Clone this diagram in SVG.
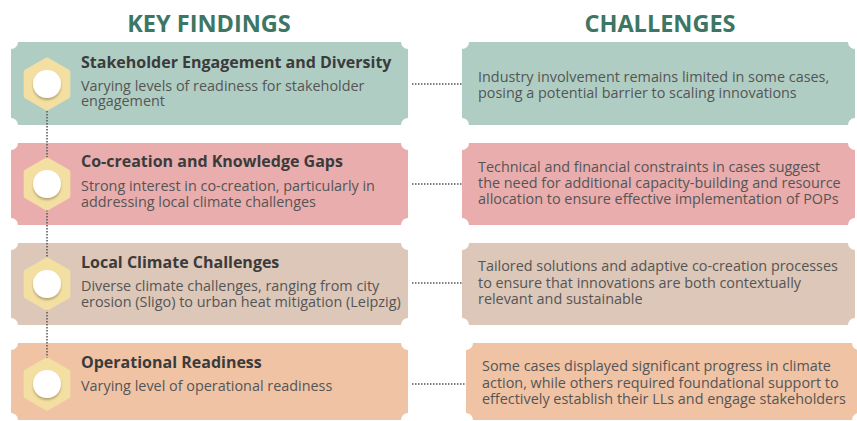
<svg xmlns="http://www.w3.org/2000/svg" width="857" height="421" viewBox="0 0 857 421">
<defs>
<style>
.title{font-family:"Open Sans","Liberation Sans",sans-serif;font-weight:bold;font-size:23.5px;fill:#3c7664;text-anchor:middle}
.head{font-family:"Open Sans","Liberation Sans",sans-serif;font-weight:bold;font-size:16px;fill:#3b3b3b}
.body{font-family:"Open Sans","Liberation Sans",sans-serif;font-size:14.4px;fill:#555}
.hex{fill:#f4dfa2;stroke:#f4dfa2;stroke-width:5;stroke-linejoin:round}
.dot{stroke:#555;stroke-width:1.5;stroke-dasharray:1.5 1.5;fill:none}
.c1{fill:#b0cdc3}.c2{fill:#e9adad}.c3{fill:#dcc7b8}.c4{fill:#f0c3a5}
</style>
<filter id="sh" x="-50%" y="-50%" width="200%" height="200%">
<feDropShadow dx="0" dy="2" stdDeviation="1.2" flood-color="#6b5a2a" flood-opacity="0.45"/>
</filter>
<path id="hx" d="M0,-24 L20.8,-12 L20.8,12 L0,24 L-20.8,12 L-20.8,-12 Z"/>
</defs>
<rect width="857" height="421" fill="#fff"/>
<text class="title" x="209" y="32">KEY FINDINGS</text>
<text class="title" x="660" y="32">CHALLENGES</text>

<g id="finding1">
<path class="c1" d="M18,42 H401 A7,7 0 0 0 408,49 V118 A7,7 0 0 0 401,125 H18 A7,7 0 0 0 11,118 V49 A7,7 0 0 0 18,42 Z"/>
<text class="head" x="81" y="68">Stakeholder Engagement and Diversity</text>
<text class="body" x="81" y="91">Varying levels of readiness for stakeholder</text>
<text class="body" x="81" y="106">engagement</text>
</g>
<g id="finding2">
<path class="c2" d="M18,143 H401 A7,7 0 0 0 408,150 V218 A7,7 0 0 0 401,225 H18 A7,7 0 0 0 11,218 V150 A7,7 0 0 0 18,143 Z"/>
<text class="head" x="81" y="167">Co-creation and Knowledge Gaps</text>
<text class="body" x="81" y="191">Strong interest in co-creation, particularly in</text>
<text class="body" x="81" y="207">addressing local climate challenges</text>
</g>
<g id="finding3">
<path class="c3" d="M18,243 H401 A7,7 0 0 0 408,250 V318 A7,7 0 0 0 401,325 H18 A7,7 0 0 0 11,318 V250 A7,7 0 0 0 18,243 Z"/>
<text class="head" x="81" y="268">Local Climate Challenges</text>
<text class="body" x="81" y="291">Diverse climate challenges, ranging from city</text>
<text class="body" x="81" y="307">erosion (Sligo) to urban heat mitigation (Leipzig)</text>
</g>
<g id="finding4">
<path class="c4" d="M18,343 H401 A7,7 0 0 0 408,350 V413 A7,7 0 0 0 401,420 H18 A7,7 0 0 0 11,413 V350 A7,7 0 0 0 18,343 Z"/>
<text class="head" x="81" y="368">Operational Readiness</text>
<text class="body" x="81" y="391">Varying level of operational readiness</text>
</g>

<g id="challenge1">
<path class="c1" d="M469,42 H848 A7,7 0 0 0 855,49 V118 A7,7 0 0 0 848,125 H469 A7,7 0 0 0 462,118 V49 A7,7 0 0 0 469,42 Z"/>
<text class="body" x="478" y="82">Industry involvement remains limited in some cases,</text>
<text class="body" x="478" y="98">posing a potential barrier to scaling innovations</text>
</g>
<g id="challenge2">
<path class="c2" d="M469,143 H848 A7,7 0 0 0 855,150 V218 A7,7 0 0 0 848,225 H469 A7,7 0 0 0 462,218 V150 A7,7 0 0 0 469,143 Z"/>
<text class="body" x="478" y="172">Technical and financial constraints in cases suggest</text>
<text class="body" x="478" y="188">the need for additional capacity-building and resource</text>
<text class="body" x="478" y="204">allocation to ensure effective implementation of POPs</text>
</g>
<g id="challenge3">
<path class="c3" d="M469,243 H848 A7,7 0 0 0 855,250 V318 A7,7 0 0 0 848,325 H469 A7,7 0 0 0 462,318 V250 A7,7 0 0 0 469,243 Z"/>
<text class="body" x="478" y="271">Tailored solutions and adaptive co-creation processes</text>
<text class="body" x="478" y="288">to ensure that innovations are both contextually</text>
<text class="body" x="478" y="304">relevant and sustainable</text>
</g>
<g id="challenge4">
<path class="c4" d="M473,343 H852 A7,7 0 0 0 859,350 V413 A7,7 0 0 0 852,420 H473 A7,7 0 0 0 466,413 V350 A7,7 0 0 0 473,343 Z"/>
<text class="body" x="482" y="371">Some cases displayed significant progress in climate</text>
<text class="body" x="482" y="388">action, while others required foundational support to</text>
<text class="body" x="482" y="404">effectively establish their LLs and engage stakeholders</text>
</g>

<g id="connectors">
<line class="dot" x1="47" y1="108" x2="47" y2="360"/>
<line class="dot" x1="412" y1="84" x2="462" y2="84"/>
<line class="dot" x1="412" y1="184" x2="462" y2="184"/>
<line class="dot" x1="412" y1="283" x2="462" y2="283"/>
<line class="dot" x1="412" y1="384" x2="466" y2="384"/>
</g>

<g id="marker1"><use href="#hx" class="hex" x="47" y="84"/><circle cx="47" cy="84" r="14" fill="#fff" filter="url(#sh)"/></g>
<g id="marker2"><use href="#hx" class="hex" x="47" y="184"/><circle cx="47" cy="184" r="14" fill="#fff" filter="url(#sh)"/></g>
<g id="marker3"><use href="#hx" class="hex" x="47" y="284"/><circle cx="47" cy="284" r="14" fill="#fff" filter="url(#sh)"/></g>
<g id="marker4"><use href="#hx" class="hex" x="47" y="384"/><circle cx="47" cy="384" r="14" fill="#fff" filter="url(#sh)"/></g>
</svg>
